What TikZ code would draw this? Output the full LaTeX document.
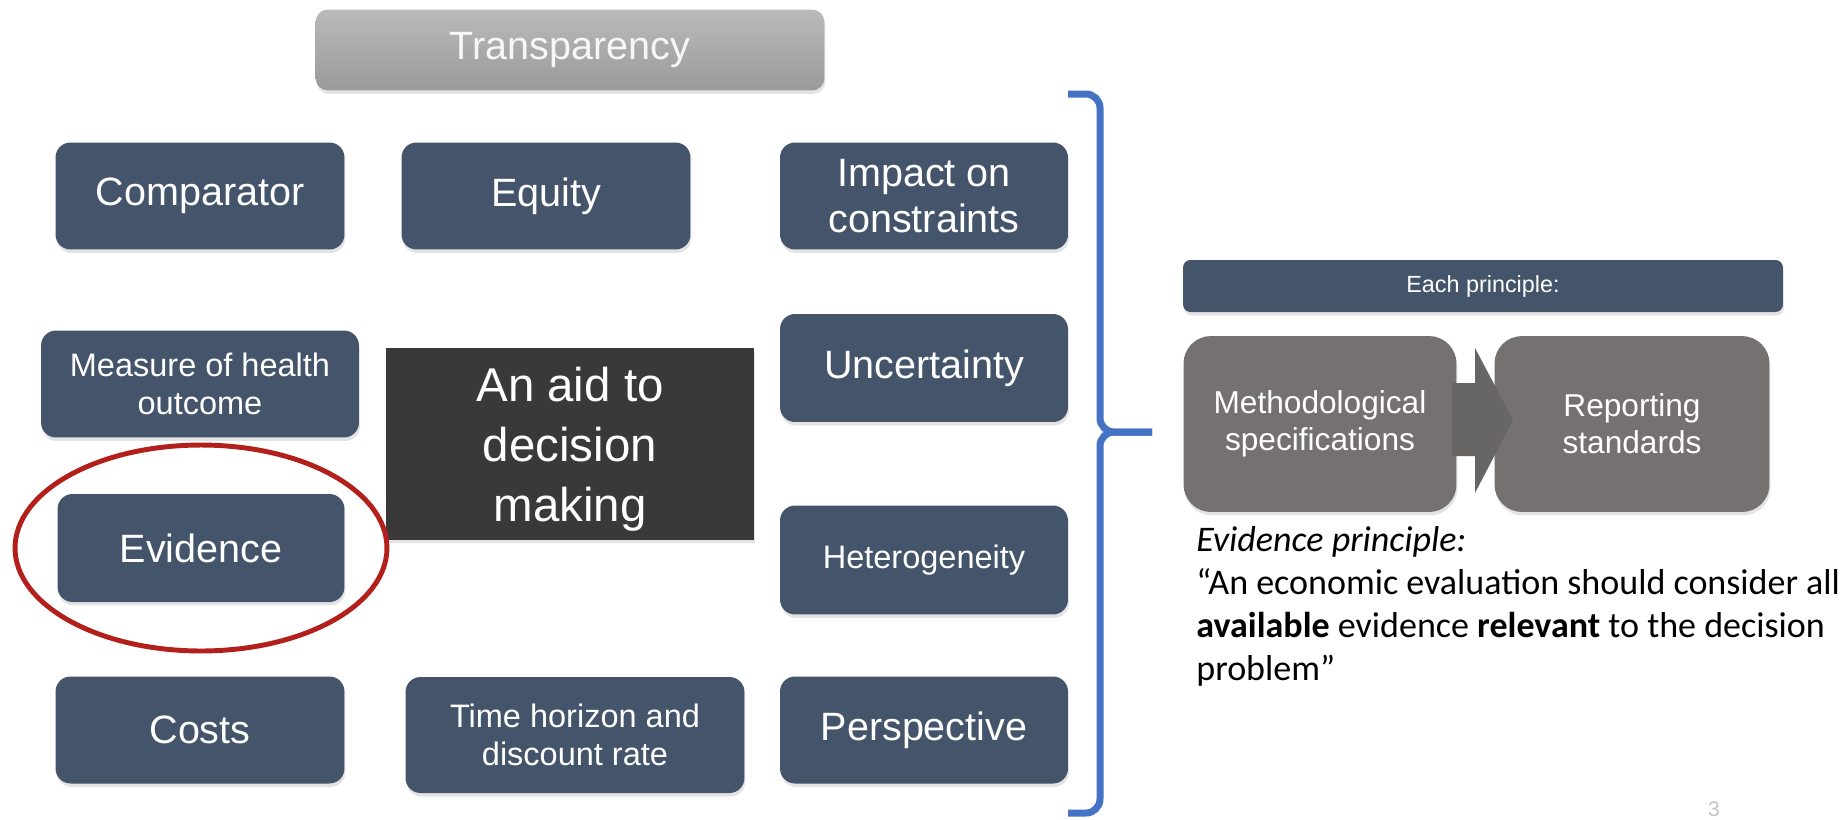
\documentclass[tikz,border=0pt]{standalone}
\usepackage{fontspec}
\usepackage{tikz}
\usetikzlibrary{calc,shadows}
\newfontfamily\boxfont{Liberation Sans}
\newfontfamily\notefont{Carlito}
\definecolor{slate}{HTML}{44546A}
\definecolor{aidgray}{HTML}{3A3838}
\definecolor{stepgray}{HTML}{767171}
\definecolor{arrowgray}{HTML}{686565}
\definecolor{braceblue}{HTML}{4472C4}
\definecolor{ringred}{HTML}{B3201C}
\definecolor{transtop}{HTML}{BABABA}
\definecolor{transbot}{HTML}{9A9A9A}
\tikzset{
	boxshadow/.style={drop shadow={shadow xshift=0.02cm,shadow yshift=-0.07cm,opacity=0.22}},
	principle/.style={fill=slate,text=white,rounded corners=0.3cm,align=center,inner sep=0pt,
		minimum width=5.78cm,minimum height=2.14cm,boxshadow,
		font=\boxfont\fontsize{22.5}{26}\selectfont},
	smalltext/.style={font=\boxfont\fontsize{18.5}{21.5}\selectfont},
	stepbox/.style={principle,fill=stepgray,rounded corners=0.55cm,minimum height=3.52cm,
		font=\boxfont\fontsize{18}{21}\selectfont},
	bracestyle/.style={draw=braceblue,line width=1.4mm,rounded corners=0.28cm}
}
\begin{document}
\begin{tikzpicture}[x=0.02cm,y=-0.02cm]
				%%%%% START %%%%%
				\def\W{1847}
				\def\H{819}
				\def\bracex{1100}
				\def\tipy{432}
				\def\arry{420}

				\useasboundingbox (0,0) rectangle (\W,\H);
				\fill[white] (0,0) rectangle (\W,\H);
				\clip (0,0) rectangle (\W,\H);

				% title bar
				\node[top color=transtop,bottom color=transbot,text=white!94!gray,rounded corners=0.25cm,
					minimum width=10.18cm,minimum height=1.62cm,boxshadow,
					font=\boxfont\fontsize{22.5}{26}\selectfont] (transp) at (570,50) {Transparency};

				% the principles
				\node[principle] (comparator) at (200,196) {Comparator};
				\node[principle] (equity) at (546,196) {Equity};
				\node[principle,minimum width=5.76cm] (impact) at (924,196) {Impact on\\constraints};
				\node[principle,smalltext,minimum width=6.36cm] (measure) at (200,384) {Measure of health\\outcome};
				\node[principle,minimum width=5.76cm,minimum height=2.16cm] (uncert) at (924,368) {Uncertainty};
				\node[principle,minimum width=5.74cm,minimum height=2.16cm] (evidence) at (201,548) {Evidence};
				\node[principle,smalltext,minimum width=5.76cm,minimum height=2.18cm] (hetero) at (924,560) {Heterogeneity};
				\node[principle] (costs) at (200,730) {Costs};
				\node[principle,smalltext,minimum width=6.78cm,minimum height=2.32cm] (horizon) at (575,735) {Time horizon and\\discount rate};
				\node[principle,minimum width=5.76cm] (persp) at (924,730) {Perspective};

				\node[fill=aidgray,inner sep=0pt,minimum width=7.36cm,minimum height=3.84cm,boxshadow] (aid) at (570,444) {};
				\node[text=white,align=center,inner sep=0pt,
					font=\boxfont\fontsize{27}{34}\selectfont] (aidtext) at ([yshift=-0.1cm]aid.center) {An aid to\\decision\\making};

				\draw[ringred,line width=2.8pt] (evidence.center) ellipse [x radius=3.72cm,y radius=2.06cm];

				% brace
				\draw[bracestyle] (1068,94) -- (\bracex,94) -- (\bracex,\tipy) -- (1152,\tipy);
				\draw[bracestyle] (1152,\tipy) -- (\bracex,\tipy) -- (\bracex,813) -- (1068,813);

				% right hand side
				\node[principle,rounded corners=0.15cm,minimum width=12cm,minimum height=1.04cm,
					font=\boxfont\fontsize{13.3}{16}\selectfont] (each) at (1483,286) {Each principle:};
				\node[stepbox,minimum width=5.46cm] (method) at (1320,424) {Methodological\\specifications};
				\node[stepbox,minimum width=5.5cm] (report) at (1632,424) {Reporting\\standards};
				\fill[arrowgray] (1452,\arry-37) -- (1475,\arry-37) -- (1475,\arry-72) -- (1513,\arry)
					-- (1475,\arry+73) -- (1475,\arry+36) -- (1452,\arry+36) -- cycle;

				\node[anchor=north west,inner sep=0pt,align=left,
					font=\notefont\fontsize{20.5}{24.5}\selectfont] (quote) at (1196,526)
					{\textit{Evidence principle:}\\“An economic evaluation should consider all\\\textbf{available} evidence \textbf{relevant} to the decision\\problem”};

				\node[anchor=south,inner sep=1pt,text=gray!45,font=\boxfont\fontsize{12}{14}\selectfont] (pagenum) at (1714,\H) {3};
				%%%%% START %%%%%
\end{tikzpicture}
\end{document}
